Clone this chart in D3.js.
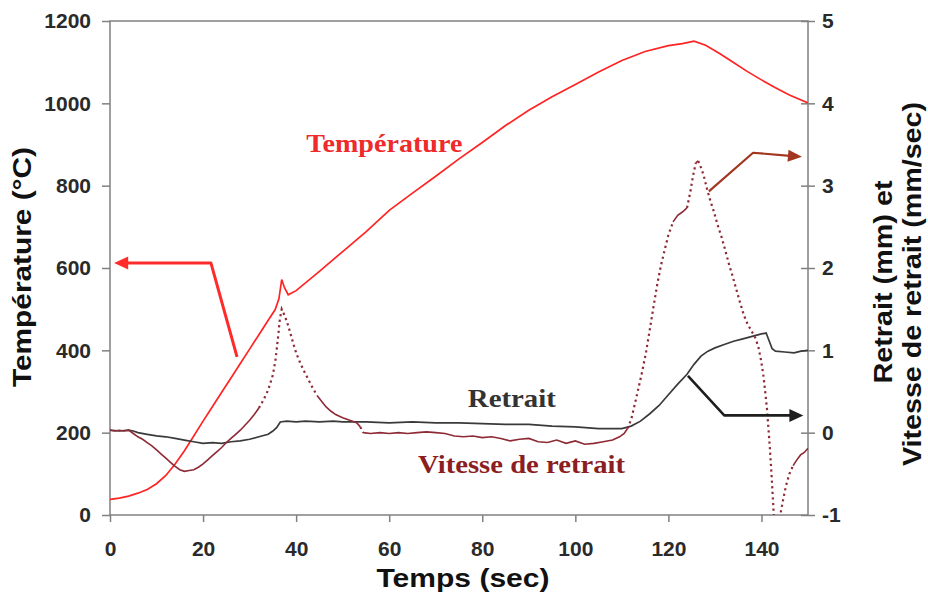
<!DOCTYPE html>
<html>
<head>
<meta charset="utf-8">
<script src="https://cdn.jsdelivr.net/npm/d3@7"></script>
<style>
  body { margin: 0; background: #fff; }
  svg { display: block; }
</style>
</head>
<body>
<svg id="chart" width="928" height="600"></svg>
<script>
// Température (°C) en fonction du temps (s)
const tempTime  = [0, 2, 4, 6, 8, 10, 12, 14, 16, 18, 20, 22, 24, 26, 28, 30, 32, 34, 35.5, 36.3, 36.9, 37.5, 38.3, 40, 45, 50, 55, 60, 65, 70, 75, 80, 85, 90, 95, 100, 105, 110, 115, 120, 123, 125.5, 128, 131, 134, 137, 140, 143, 146, 150];
const tempValue = [38, 41, 46, 53, 62, 76, 96, 124, 156, 192, 228, 263, 298, 333, 368, 403, 438, 473, 499, 525, 572, 552, 535, 545, 592, 640, 688, 740, 782, 823, 865, 905, 946, 983, 1016, 1046, 1076, 1104, 1126, 1140, 1145, 1151, 1141, 1121, 1099, 1077, 1057, 1038, 1020, 1001];

// Retrait (mm)
const retraitTime  = [0, 2, 4, 5, 6, 8, 10, 12, 14, 16, 18, 20, 22, 24, 26, 28, 30, 32, 34, 35, 35.8, 36.6, 38, 40, 42, 45, 48, 50, 55, 60, 65, 70, 75, 80, 85, 90, 95, 100, 105, 108, 110, 112, 114, 116, 118, 120, 122, 124, 125.5, 127, 128.5, 130, 132, 134, 136, 138, 140, 141, 142.3, 143, 145, 147, 148.5, 150];
const retraitValue = [0.03, 0.02, 0.03, 0.02, 0.0, -0.02, -0.04, -0.05, -0.07, -0.09, -0.11, -0.13, -0.12, -0.13, -0.11, -0.10, -0.08, -0.05, -0.02, 0.02, 0.06, 0.13, 0.14, 0.13, 0.14, 0.13, 0.14, 0.13, 0.13, 0.12, 0.13, 0.12, 0.12, 0.11, 0.10, 0.10, 0.08, 0.07, 0.05, 0.05, 0.05, 0.08, 0.14, 0.23, 0.33, 0.46, 0.59, 0.71, 0.83, 0.93, 0.99, 1.03, 1.07, 1.11, 1.14, 1.17, 1.20, 1.21, 1.02, 0.99, 0.98, 0.97, 0.99, 1.00];

// Vitesse de retrait (mm/s)
const vitesseTime  = [0, 1, 2, 3, 4, 5, 6, 7, 8, 9, 10, 11, 12, 13, 14, 15, 16, 17, 18, 19, 20, 21, 22, 23, 24, 25, 26, 27, 28, 29, 30, 31, 32, 33, 34, 35, 35.6, 36.1, 36.5, 36.9, 37.3, 37.8, 38.3, 38.8, 39.4, 40, 40.7, 41.5, 42.5, 43.5, 44.5, 45.5, 46.5, 47.5, 48.5, 50, 51.5, 53, 53.8, 54.4, 56, 58, 60, 62, 64, 66, 68, 70, 72, 74, 76, 78, 80, 82, 84, 86, 88, 90, 92, 94, 96, 98, 100, 102, 104, 106, 108, 109.5, 110.5, 111.2, 112, 112.8, 113.6, 114.4, 115.2, 116, 116.8, 117.6, 118.4, 119.2, 120, 121, 122, 123, 124, 124.7, 125.3, 125.9, 126.4, 127, 127.6, 128.3, 129, 129.8, 130.6, 131.4, 132.2, 133, 133.8, 134.6, 135.4, 136.2, 137, 137.8, 138.6, 139.3, 139.9, 140.4, 140.8, 141.2, 141.5, 141.8, 142.1, 142.4, 142.7, 143.1, 143.6, 144.1, 144.7, 145.3, 146, 146.8, 147.6, 148.4, 149.2, 150];
const vitesseValue = [0.03, 0.02, 0.03, 0.02, 0.03, -0.01, -0.05, -0.08, -0.12, -0.16, -0.21, -0.26, -0.31, -0.36, -0.41, -0.45, -0.47, -0.46, -0.45, -0.42, -0.38, -0.33, -0.28, -0.23, -0.18, -0.12, -0.07, -0.02, 0.03, 0.09, 0.15, 0.22, 0.30, 0.40, 0.52, 0.70, 0.90, 1.15, 1.38, 1.50, 1.45, 1.38, 1.30, 1.20, 1.08, 0.97, 0.87, 0.77, 0.66, 0.55, 0.45, 0.38, 0.31, 0.26, 0.22, 0.18, 0.15, 0.12, 0.07, 0.0, -0.01, 0.0, -0.01, 0.0, -0.01, 0.0, 0.01, 0.0, -0.01, -0.04, -0.05, -0.04, -0.06, -0.05, -0.07, -0.10, -0.08, -0.07, -0.11, -0.12, -0.09, -0.13, -0.10, -0.14, -0.13, -0.11, -0.09, -0.05, -0.01, 0.05, 0.16, 0.35, 0.55, 0.75, 0.98, 1.25, 1.53, 1.80, 2.03, 2.22, 2.40, 2.56, 2.64, 2.68, 2.73, 2.92, 3.12, 3.28, 3.30, 3.22, 3.12, 2.96, 2.82, 2.68, 2.52, 2.38, 2.22, 2.05, 1.90, 1.74, 1.58, 1.43, 1.32, 1.24, 1.16, 1.05, 0.88, 0.70, 0.50, 0.28, 0.05, -0.18, -0.45, -0.75, -1.05, -1.35, -1.2, -0.98, -0.80, -0.64, -0.50, -0.40, -0.33, -0.27, -0.24, -0.19];

// Graduations
const xTicks     = [0, 20, 40, 60, 80, 100, 120, 140];
const leftTicks  = [0, 200, 400, 600, 800, 1000, 1200];
const rightTicks = [-1, 0, 1, 2, 3, 4, 5];

// Étiquettes et flèches (coordonnées en données)
const labelTemp    = { text: "Température", t: 42.2, v: 882 };
const labelRetrait = { text: "Retrait", t: 76.9, v: 0.31 };
const labelVitesse = { text: "Vitesse de retrait", t: 66.2, v: -0.49 };
const arrowTemp    = [[27.3, 384], [21.7, 612], [0.9, 612]];
const arrowVitesse = [[128.7, 2.93], [138.2, 3.40], [148.7, 3.35]];
const arrowRetrait = [[124.2, 0.69], [132.0, 0.21], [149.0, 0.21]];

(function draw() {
  const svg = d3.select("#chart");
  const mLeft = 110, mRight = 808, mTop = 21, mBottom = 515;

  const x  = d3.scaleLinear().domain([0, 150]).range([mLeft, mRight]);
  const yL = d3.scaleLinear().domain([0, 1200]).range([mBottom, mTop]);
  const yR = d3.scaleLinear().domain([-1, 5]).range([mBottom, mTop]);

  const axisColor = "#808080";
  const sans = "'Liberation Sans', Arial, sans-serif";
  const serif = "'Liberation Serif', 'Times New Roman', serif";
  const plain = d => String(d);

  // Cadre du graphique
  svg.append("rect")
    .attr("x", mLeft).attr("y", mTop)
    .attr("width", mRight - mLeft).attr("height", mBottom - mTop)
    .attr("fill", "none").attr("stroke", axisColor).attr("stroke-width", 1.5);

  function styleAxis(g) {
    g.select(".domain").remove();
    g.selectAll(".tick line").attr("stroke", axisColor).attr("stroke-width", 1.5);
    g.selectAll(".tick text")
      .attr("fill", "#2a2a2a")
      .style("font-family", sans)
      .style("font-weight", "bold")
      .style("font-size", "21px");
  }

  svg.append("g")
    .attr("transform", `translate(${mLeft},0)`)
    .call(d3.axisLeft(yL).tickValues(leftTicks).tickSize(8).tickPadding(11).tickFormat(plain))
    .call(styleAxis);

  svg.append("g")
    .attr("transform", `translate(0,${mBottom})`)
    .call(d3.axisBottom(x).tickValues(xTicks).tickSize(7).tickPadding(19).tickFormat(plain))
    .call(styleAxis);

  const rAxis = svg.append("g")
    .attr("transform", `translate(${mRight},0)`)
    .call(d3.axisRight(yR).tickValues(rightTicks).tickSize(7).tickPadding(7).tickFormat(plain))
    .call(styleAxis);
  rAxis.selectAll(".tick line").attr("x1", -7);

  // Titres des axes
  function title(transform, text, len) {
    svg.append("text")
      .attr("transform", transform)
      .attr("text-anchor", "middle")
      .attr("textLength", len).attr("lengthAdjust", "spacingAndGlyphs")
      .style("font-family", sans).style("font-weight", "bold").style("font-size", "25px")
      .attr("fill", "#111")
      .text(text);
  }
  title("translate(31,267) rotate(-90)", "Température (°C)", 240);
  title("translate(463,587)", "Temps (sec)", 173);
  title("translate(892,282) rotate(-90)", "Retrait (mm) et", 203);
  title("translate(921,284) rotate(-90)", "Vitesse de retrait (mm/sec)", 364);

  // Zone de tracé
  svg.append("clipPath").attr("id", "plot-clip")
    .append("rect").attr("x", mLeft).attr("y", mTop)
    .attr("width", mRight - mLeft).attr("height", mBottom - mTop);

  const plot = svg.append("g").attr("clip-path", "url(#plot-clip)");
  const zip = (ts, vs) => ts.map((t, i) => [t, vs[i]]);

  // Courbe de température
  plot.append("path")
    .datum(zip(tempTime, tempValue))
    .attr("fill", "none").attr("stroke", "#ff2424").attr("stroke-width", 1.7)
    .attr("d", d3.line().x(d => x(d[0])).y(d => yL(d[1])));

  // Courbe de retrait
  plot.append("path")
    .datum(zip(retraitTime, retraitValue))
    .attr("fill", "none").attr("stroke", "#3a3a3a").attr("stroke-width", 1.7)
    .attr("d", d3.line().x(d => x(d[0])).y(d => yR(d[1])));

  // Vitesse de retrait : trait plein sur les parties lentes, pointillé sur les parties raides
  const vPts = zip(vitesseTime, vitesseValue).map(d => [x(d[0]), yR(d[1])]);
  const runs = [];
  for (let i = 0; i < vPts.length - 1; i++) {
    const a = vPts[i], b = vPts[i + 1];
    const steep = Math.abs(b[1] - a[1]) > 1.6 * Math.abs(b[0] - a[0]);
    const last = runs[runs.length - 1];
    if (last && last.steep === steep) last.pts.push(b);
    else runs.push({ steep, pts: [a, b] });
  }
  const pxLine = d3.line();
  runs.forEach(r => {
    plot.append("path")
      .attr("d", pxLine(r.pts))
      .attr("fill", "none")
      .attr("stroke", "#8e2a35")
      .attr("stroke-width", r.steep ? 2.2 : 1.6)
      .attr("stroke-dasharray", r.steep ? "2.2,3.4" : null);
  });

  // Étiquettes des courbes
  function label(lbl, yScale, len, color) {
    svg.append("text")
      .attr("x", x(lbl.t)).attr("y", yScale(lbl.v))
      .attr("textLength", len).attr("lengthAdjust", "spacingAndGlyphs")
      .style("font-family", serif).style("font-weight", "bold").style("font-size", "26px")
      .attr("fill", color).text(lbl.text);
  }
  label(labelTemp, yL, 156, "#ee2a2a");
  label(labelRetrait, yR, 88, "#333");
  label(labelVitesse, yR, 207, "#8b1e22");

  // Flèches
  function arrow(points, yScale, color, width, headLen, headHalf) {
    const p = points.map(d => [x(d[0]), yScale(d[1])]);
    const tip = p[p.length - 1], prev = p[p.length - 2];
    const dx = tip[0] - prev[0], dy = tip[1] - prev[1];
    const len = Math.hypot(dx, dy), ux = dx / len, uy = dy / len;
    const base = [tip[0] - ux * headLen, tip[1] - uy * headLen];
    const shaft = p.slice(0, -1).concat([[base[0] + ux * 2, base[1] + uy * 2]]);
    svg.append("path").attr("d", d3.line()(shaft))
      .attr("fill", "none").attr("stroke", color).attr("stroke-width", width)
      .attr("stroke-linejoin", "round");
    svg.append("path")
      .attr("d", d3.line()([
        tip,
        [base[0] - uy * headHalf, base[1] + ux * headHalf],
        [base[0] + uy * headHalf, base[1] - ux * headHalf]
      ]) + "Z")
      .attr("fill", color);
  }
  arrow(arrowTemp, yL, "#ff2a2a", 3, 14, 6.5);
  arrow(arrowVitesse, yR, "#a3361f", 2.2, 14, 6);
  arrow(arrowRetrait, yR, "#1e1e1e", 2.6, 14, 6.5);
})();
</script>
</body>
</html>
